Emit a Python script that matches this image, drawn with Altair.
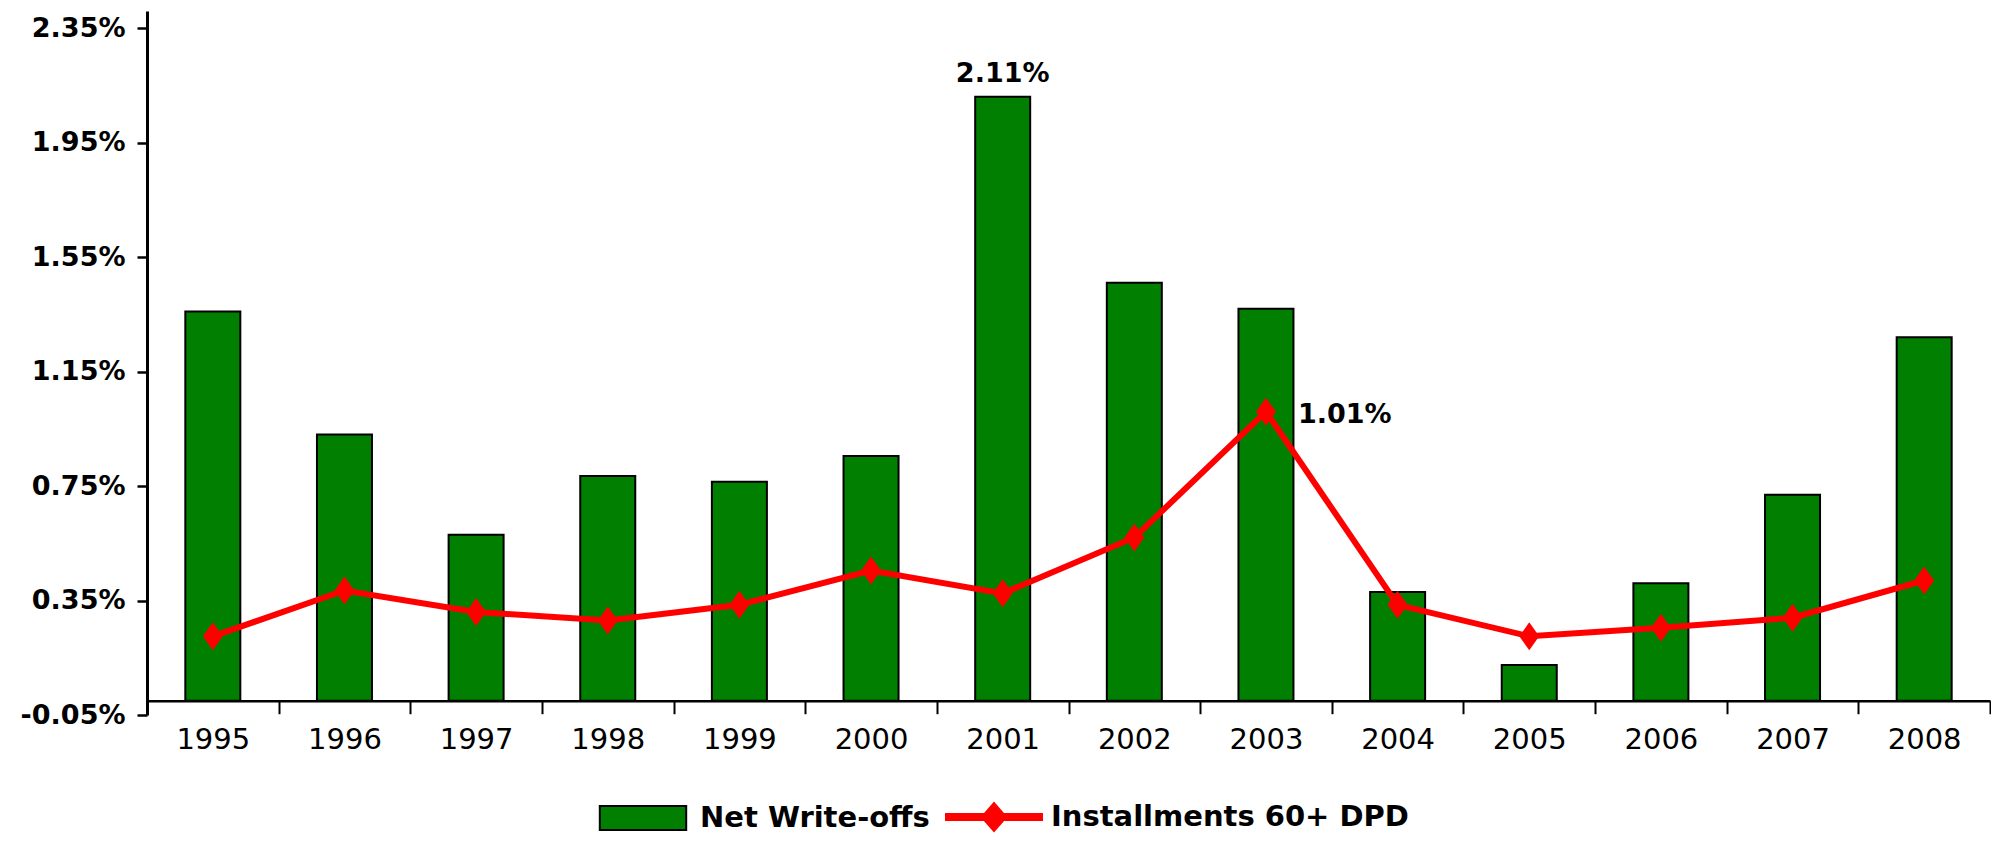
import altair as alt
import pandas as pd

years = ["1995", "1996", "1997", "1998", "1999", "2000", "2001",
         "2002", "2003", "2004", "2005", "2006", "2007", "2008"]
net_writeoffs = [1.36, 0.93, 0.58, 0.785, 0.765, 0.855, 2.11,
                 1.46, 1.37, 0.38, 0.125, 0.41, 0.72, 1.27]
dpd60 = [0.225, 0.385, 0.31, 0.28, 0.335, 0.455, 0.375,
         0.57, 1.01, 0.335, 0.225, 0.255, 0.29, 0.42]
y_ticks = [-0.05, 0.35, 0.75, 1.15, 1.55, 1.95, 2.35]
series_names = ["Net Write-offs", "Installments 60+ DPD"]
bar_label_year = "2001"
line_label_year = "2003"

GREEN = "#007F00"
RED = "#FF0000"
DIAMOND = "M0,-1L0.71,0L0,1L-0.71,0Z"
RECT_SYM = "M-0.9,-0.25H0.9V0.25H-0.9Z"
LINE_SYM = ("M-1,-0.0625H-0.2L0,-0.29L0.2,-0.0625H1V0.0625H0.2"
            "L0,0.29L-0.2,0.0625H-1Z")

df = pd.DataFrame({"year": years, "nwo": net_writeoffs, "dpd": dpd60})

x_enc = alt.X(
    "year:N",
    sort=years,
    scale=alt.Scale(paddingInner=0, paddingOuter=0),
    axis=alt.Axis(
        title=None, labelAngle=0, tickBand="extent", offset=-14.3,
        tickSize=13, tickWidth=2, tickColor="black",
        domainColor="black", domainWidth=2.5,
        labelFont="DejaVu Sans", labelFontSize=29, labelColor="black",
        labelPadding=12, grid=False,
    ),
)
y_scale = alt.Scale(domain=[-0.05, 2.41], nice=False, zero=False)
y_axis = alt.Axis(
    title=None, values=y_ticks, grid=False,
    labelExpr="(datum.value < 0 ? '-' : '') + format(abs(datum.value), '.2f') + '%'",
    domainColor="black", domainWidth=3, tickColor="black", tickWidth=2.5,
    tickSize=10, labelFont="DejaVu Sans", labelFontWeight="bold",
    labelFontSize=27, labelColor="black", labelPadding=12, labelFlush=False,
    labelOverlap=False,
)

base = alt.Chart(df)

bars = base.mark_bar(size=55, color=GREEN, stroke="black", strokeWidth=2).encode(
    x=x_enc,
    y=alt.Y("nwo:Q", scale=y_scale, axis=y_axis),
    y2=alt.datum(0),
)

line = base.mark_line(color=RED, strokeWidth=6).encode(
    x=x_enc, y=alt.Y("dpd:Q", scale=y_scale, axis=y_axis)
)

points = base.mark_point(shape=DIAMOND, filled=True, color=RED, size=784, opacity=1).encode(
    x=x_enc, y=alt.Y("dpd:Q", scale=y_scale, axis=y_axis)
)

bar_label = base.transform_filter(alt.datum.year == bar_label_year).transform_calculate(
    lbl="format(datum.nwo, '.2f') + '%'"
).mark_text(
    font="DejaVu Sans", fontWeight="bold", fontSize=27, color="black",
    baseline="alphabetic", dy=-15,
).encode(x=x_enc, y=alt.Y("nwo:Q", scale=y_scale, axis=y_axis), text="lbl:N")

line_label = base.transform_filter(alt.datum.year == line_label_year).transform_calculate(
    lbl="format(datum.dpd, '.2f') + '%'"
).mark_text(
    font="DejaVu Sans", fontWeight="bold", fontSize=27, color="black",
    align="left", baseline="middle", dx=32, dy=3,
).encode(x=x_enc, y=alt.Y("dpd:Q", scale=y_scale, axis=y_axis), text="lbl:N")

leg = alt.Legend(
    title=None, orient="none", legendX=447, legendY=757, direction="horizontal",
    symbolSize=9216, symbolStrokeWidth=2, labelFont="DejaVu Sans",
    labelFontWeight="bold", labelFontSize=29, labelColor="black",
    labelOffset=8, columnPadding=12, labelLimit=0, padding=0,
)
legend_df = pd.DataFrame({"series": series_names})
legend_layer = alt.Chart(legend_df).transform_filter("false").mark_point(
    filled=True, opacity=1, strokeWidth=2
).encode(
    color=alt.Color("series:N", scale=alt.Scale(domain=series_names, range=[GREEN, RED]), legend=leg),
    shape=alt.Shape("series:N", scale=alt.Scale(domain=series_names, range=[RECT_SYM, LINE_SYM]), legend=leg),
    stroke=alt.Stroke("series:N", scale=alt.Scale(domain=series_names, range=["black", RED]), legend=leg),
)

chart = alt.layer(bars, line, points, bar_label, line_label, legend_layer).properties(
    width=1843, height=704,
    autosize=alt.AutoSizeParams(type="none"),
    padding={"left": 139, "top": 3, "right": 1, "bottom": 120},
    background="white",
).configure_view(stroke=None)

chart.save("out.html", embed_options={"renderer": "svg", "actions": False})
